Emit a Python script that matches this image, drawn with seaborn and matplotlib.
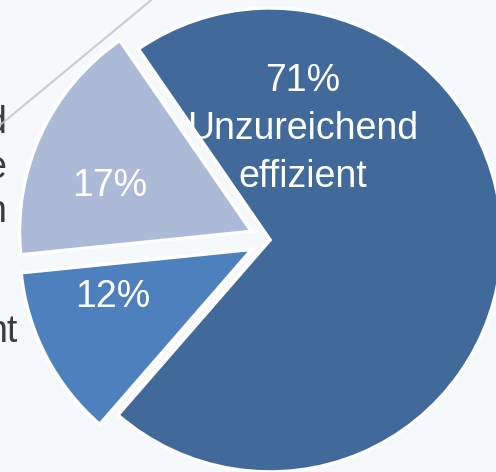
import numpy as np
import seaborn as sns
import matplotlib.pyplot as plt
from matplotlib.lines import Line2D

# slice data
shares = [71, 17, 12]
slice_labels = ["Unzureichend\neffizient", "", ""]
slice_colors = ["#416A9B", "#ADBAD7", "#4D80BC"]
# cropped legend text at the left border
side_texts = ["d", "e", "n", "nt"]

sns.set_style("white")
plt.rcParams['font.family'] = ['Liberation Sans', 'DejaVu Sans']

fig = plt.figure(figsize=(4.96, 4.72), dpi=100)
fig.patch.set_facecolor("#F6F9FC")
ax = fig.add_axes([0, 0, 1, 1])
ax.set_facecolor("none")

wedges, _ = ax.pie(shares, colors=sns.color_palette(slice_colors),
                   startangle=229, counterclock=True,
                   explode=(0, 0.088, 0.088), radius=1.0,
                   wedgeprops=dict(edgecolor="white", linewidth=2.5))

ax.set_xlim(-1.164, 0.974)
ax.set_ylim(-1.0, 1.034)
ax.axis("off")

# labels inside the slices
label_pos = [(0.14, 0.478), (-0.690, 0.233), (-0.677, -0.245)]
for v, lab, (x, y) in zip(shares, slice_labels, label_pos):
    txt = f"{v}%" + ("\n" + lab if lab else "")
    ax.text(x, y, txt, ha="center", va="center", color="white",
            fontsize=27, linespacing=1.44)

# faint decorative line top-left
fig.add_artist(Line2D([0.0, 0.305], [0.735, 1.0], color="#C4C4C4",
                      lw=1.6, alpha=0.8))

# cut-off text at the left
side_pos = [(0.012, 0.461), (0.012, 0.267), (0.012, 0.078), (0.036, -0.44)]
for t, (fx, y) in zip(side_texts, side_pos):
    ax.text(fx * 2.138 - 1.164, y, t, ha="right", va="baseline",
            color="#3C3C3C", fontsize=27)

plt.savefig("out.png", dpi=100, facecolor=fig.get_facecolor())
